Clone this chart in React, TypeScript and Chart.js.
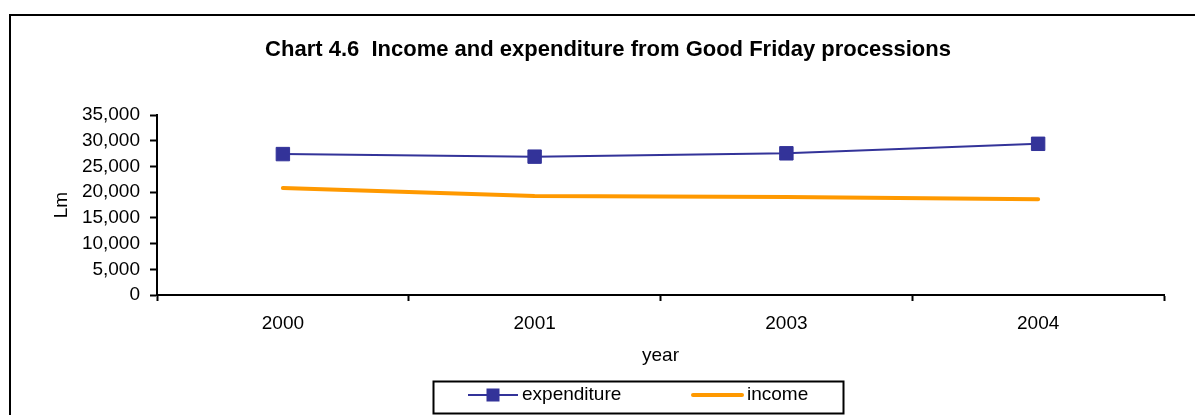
import React, { useEffect, useRef } from "react";
import { Chart, registerables } from "chart.js";

Chart.register(...registerables);

const TITLE = "Chart 4.6  Income and expenditure from Good Friday processions";
const categories = ["2000", "2001", "2003", "2004"];
const expenditure = [27400, 26900, 27550, 29400];
const income = [20800, 19250, 19050, 18600];
const yTicksMax = 35000;
const yTicksStep = 5000;
const yAxisTitle = "Lm";
const xAxisTitle = "year";
const seriesNames = ["expenditure", "income"];

const FONT = '"Liberation Sans", Arial, Helvetica, sans-serif';
const BLUE = "#333399";
const ORANGE = "#FF9900";
const FS = 19;

const decorPlugin = {
  id: "decor",
  afterDraw(chart: any) {
    const ctx = chart.ctx as CanvasRenderingContext2D;
    ctx.save();
    // outer frame (only top & left edges visible)
    ctx.strokeStyle = "#000";
    ctx.lineWidth = 2;
    ctx.beginPath();
    ctx.moveTo(10, 420);
    ctx.lineTo(10, 15);
    ctx.lineTo(1200, 15);
    ctx.stroke();

    // title
    ctx.fillStyle = "#000";
    ctx.font = `bold 22px ${FONT}`;
    ctx.textAlign = "center";
    ctx.textBaseline = "middle";
    ctx.fillText(TITLE, 608, 50);

    // legend box
    ctx.lineWidth = 2;
    ctx.strokeStyle = "#000";
    ctx.strokeRect(433.5, 381.5, 410, 32);
    const ly = 395;
    // expenditure sample
    ctx.strokeStyle = BLUE;
    ctx.lineWidth = 2;
    ctx.beginPath();
    ctx.moveTo(468, ly);
    ctx.lineTo(518, ly);
    ctx.stroke();
    ctx.fillStyle = BLUE;
    ctx.fillRect(493 - 6.5, ly - 6.5, 13, 13);
    // income sample
    ctx.strokeStyle = ORANGE;
    ctx.lineWidth = 4;
    ctx.lineCap = "round";
    ctx.beginPath();
    ctx.moveTo(693, ly);
    ctx.lineTo(742, ly);
    ctx.stroke();
    // texts
    ctx.fillStyle = "#000";
    ctx.font = `${FS}px ${FONT}`;
    ctx.textAlign = "left";
    ctx.textBaseline = "middle";
    ctx.fillText(seriesNames[0], 522, ly);
    ctx.fillText(seriesNames[1], 747, ly);
    ctx.restore();
  },
};

export default function App() {
  const ref = useRef<HTMLCanvasElement | null>(null);
  useEffect(() => {
    if (!ref.current) return;
    const chart = new Chart(ref.current, {
      type: "line",
      data: {
        labels: categories,
        datasets: [
          {
            label: seriesNames[0],
            data: expenditure,
            borderColor: BLUE,
            backgroundColor: BLUE,
            borderWidth: 2,
            pointStyle: "rect",
            pointRadius: 9.5,
            pointBorderWidth: 1,
            pointBorderColor: BLUE,
            pointBackgroundColor: BLUE,
            tension: 0,
          },
          {
            label: seriesNames[1],
            data: income,
            borderColor: ORANGE,
            backgroundColor: ORANGE,
            borderWidth: 4,
            borderCapStyle: "round",
            pointRadius: 0,
            tension: 0,
          },
        ],
      },
      options: {
        animation: false,
        responsive: false,
        devicePixelRatio: 1,
        layout: { padding: { left: 0, top: 115, right: 31, bottom: 40 } },
        plugins: {
          legend: { display: false },
          title: { display: false },
          tooltip: { enabled: false },
        },
        scales: {
          x: {
            offset: true,
            grid: {
              offset: true,
              drawOnChartArea: false,
              drawTicks: true,
              tickLength: 6,
              tickWidth: 2,
              color: "#000",
            },
            border: { display: true, color: "#000", width: 2 },
            ticks: {
              color: "#000",
              font: { family: FONT, size: FS },
              padding: 11,
              maxRotation: 0,
              autoSkip: false,
            },
            title: {
              display: true,
              text: xAxisTitle,
              color: "#000",
              font: { family: FONT, size: FS },
              padding: { top: 0, bottom: 8 },
            },
            afterFit: (s: any) => {
              s.height = 80;
            },
          },
          y: {
            min: 0,
            max: yTicksMax,
            grid: {
              drawOnChartArea: false,
              drawTicks: true,
              tickLength: 7,
              tickWidth: 2,
              color: "#000",
            },
            border: { display: true, color: "#000", width: 2 },
            ticks: {
              stepSize: yTicksStep,
              autoSkip: false,
              color: "#000",
              font: { family: FONT, size: FS },
              padding: 10,
              callback: (v: any) => Number(v).toLocaleString("en-US"),
            },
            title: {
              display: true,
              text: yAxisTitle,
              color: "#000",
              font: { family: FONT, size: FS },
              padding: { top: 50, bottom: 0 },
            },
            afterFit: (s: any) => {
              s.width = 157;
            },
          },
        },
      },
      plugins: [decorPlugin],
    });
    return () => chart.destroy();
  }, []);
  return (
    <div style={{ position: "absolute", left: 0, top: 0, width: 1195, height: 415, background: "#fff" }}>
      <canvas ref={ref} width={1195} height={415} style={{ display: "block" }} />
    </div>
  );
}
